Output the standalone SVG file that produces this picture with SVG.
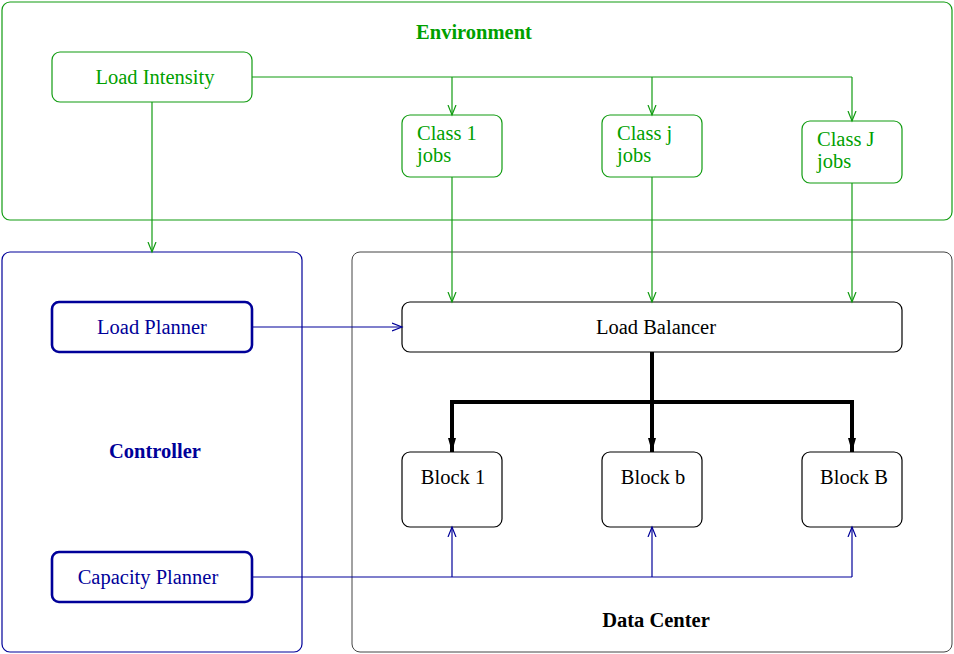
<svg xmlns="http://www.w3.org/2000/svg" width="954" height="654" viewBox="0 0 954 654">
<style>
text{font-family:"Liberation Serif","Times New Roman",serif;font-size:20.5px}
.g{fill:#00a000}.b{fill:#000099}.k{fill:#000}
.bold{font-weight:bold}
.gs{fill:none;stroke:#119c11;stroke-width:1.2}
.bs{fill:none;stroke:#000099;stroke-width:1.2}
.bt{fill:none;stroke:#000099;stroke-width:2.6}
.ks{fill:none;stroke:#000;stroke-width:1.2}
.ds{fill:none;stroke:#444;stroke-width:1}
.thick{fill:none;stroke:#000;stroke-width:4}
</style>
<defs>
<marker id="ag" markerWidth="12" markerHeight="12" refX="10" refY="5" orient="auto" markerUnits="userSpaceOnUse"><path d="M0,1 L10,5 L0,9" fill="none" stroke="#119c11" stroke-width="1.2"/></marker>
<marker id="ab" markerWidth="12" markerHeight="12" refX="10" refY="5" orient="auto" markerUnits="userSpaceOnUse"><path d="M0,1 L10,5 L0,9" fill="none" stroke="#000099" stroke-width="1.2"/></marker>
<marker id="ak" markerWidth="16" markerHeight="12" refX="14" refY="5" orient="auto" markerUnits="userSpaceOnUse"><path d="M0,1 L14,5 L0,9 Z" fill="#000"/></marker>
</defs>
<g id="environment"><rect class="gs" x="2" y="2" width="950" height="218" rx="8"/><text class="g bold" x="474" y="39" text-anchor="middle">Environment</text></g>
<g id="controller"><rect class="bs" x="2" y="252" width="300" height="400" rx="8"/><text class="b bold" x="155" y="458" text-anchor="middle">Controller</text></g>
<g id="datacenter"><rect class="ds" x="352" y="252" width="600" height="400" rx="8"/><text class="k bold" x="656" y="627" text-anchor="middle">Data Center</text></g>
<g id="loadintensity"><rect class="gs" x="52" y="52" width="200" height="50" rx="8"/><text class="g" x="155" y="84" text-anchor="middle">Load Intensity</text></g>
<g id="class1"><rect class="gs" x="402" y="115" width="100" height="62" rx="8"/><text class="g" x="417" y="140">Class 1</text><text class="g" x="417" y="162">jobs</text></g>
<g id="classj"><rect class="gs" x="602" y="115" width="100" height="62" rx="8"/><text class="g" x="617" y="140">Class j</text><text class="g" x="617" y="162">jobs</text></g>
<g id="classJ"><rect class="gs" x="802" y="121" width="100" height="62" rx="8"/><text class="g" x="817" y="146">Class J</text><text class="g" x="817" y="168">jobs</text></g>
<g id="loadplanner"><rect class="bt" x="52" y="302" width="200" height="50" rx="7"/><text class="b" x="152" y="334" text-anchor="middle">Load Planner</text></g>
<g id="capacityplanner"><rect class="bt" x="52" y="552" width="200" height="50" rx="7"/><text class="b" x="148" y="584" text-anchor="middle">Capacity Planner</text></g>
<g id="loadbalancer"><rect class="ks" x="402" y="302" width="500" height="50" rx="8"/><text class="k" x="656" y="334" text-anchor="middle">Load Balancer</text></g>
<g id="block1"><rect class="ks" x="402" y="452" width="100" height="75" rx="8"/><text class="k" x="453" y="484" text-anchor="middle">Block 1</text></g>
<g id="blockb"><rect class="ks" x="602" y="452" width="100" height="75" rx="8"/><text class="k" x="653" y="484" text-anchor="middle">Block b</text></g>
<g id="blockB"><rect class="ks" x="802" y="452" width="100" height="75" rx="8"/><text class="k" x="854" y="484" text-anchor="middle">Block B</text></g>
<g id="connectors">
<path class="gs" d="M252,77 H852"/>
<path class="gs" d="M452,77 V115" marker-end="url(#ag)"/>
<path class="gs" d="M652,77 V115" marker-end="url(#ag)"/>
<path class="gs" d="M852,77 V121" marker-end="url(#ag)"/>
<path class="gs" d="M152,102 V252" marker-end="url(#ag)"/>
<path class="gs" d="M452,177 V302" marker-end="url(#ag)"/>
<path class="gs" d="M652,177 V302" marker-end="url(#ag)"/>
<path class="gs" d="M852,183 V302" marker-end="url(#ag)"/>
<path class="bs" d="M252,327 H402" marker-end="url(#ab)"/>
<path class="thick" d="M652,352 V452" marker-end="url(#ak)"/>
<path class="thick" d="M452,452 V402 H852 V452" marker-end="url(#ak)"/>
<path class="thick" d="M452,403 V452" marker-end="url(#ak)"/>
<path class="bs" d="M252,577 H852"/>
<path class="bs" d="M452,577 V527" marker-end="url(#ab)"/>
<path class="bs" d="M652,577 V527" marker-end="url(#ab)"/>
<path class="bs" d="M852,577 V527" marker-end="url(#ab)"/>
</g>
</svg>
